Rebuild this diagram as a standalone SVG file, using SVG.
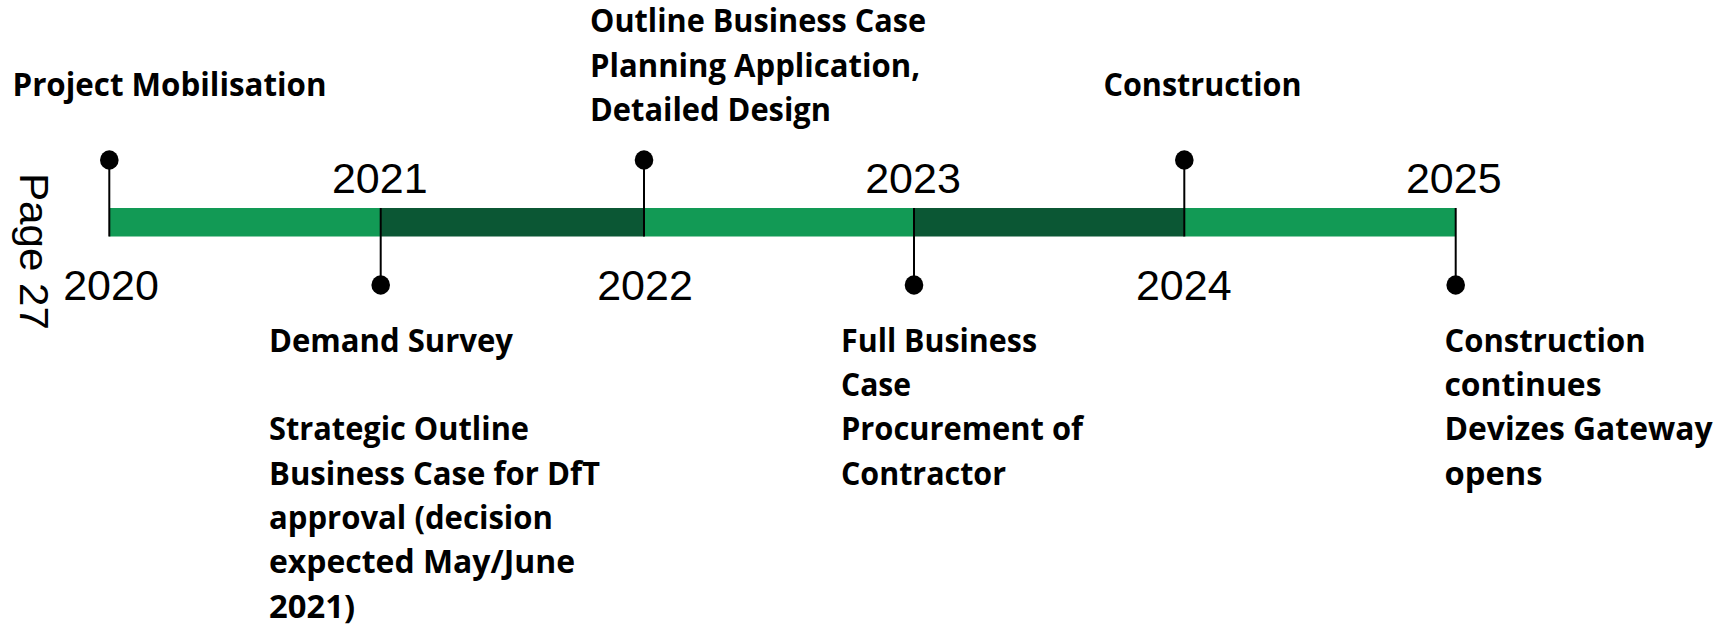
<svg xmlns="http://www.w3.org/2000/svg" width="1733" height="626" viewBox="0 0 1733 626">
<style>
.lbl{font-family:"Open Sans","Noto Sans","Liberation Sans",sans-serif;font-weight:700;font-size:32px;fill:#000}
.yr{font-family:"Liberation Sans",Arial,sans-serif;font-size:43px;fill:#000;text-anchor:middle}
.pg{font-family:"Liberation Sans",Arial,sans-serif;font-size:40px;fill:#000}
.stem{stroke:#000;stroke-width:2;fill:none}
.pin{fill:#000}
.lt{fill:#129A55}
.dk{fill:#0B5734}
</style>
<rect width="1733" height="626" fill="#fff"/>
<text class="pg" transform="translate(20,173) rotate(90)" textLength="157" lengthAdjust="spacingAndGlyphs">Page 27</text>
<g id="bar">
<rect class="lt" x="109.3" y="208" width="271.4" height="28.5"/>
<rect class="dk" x="380.7" y="208" width="263.3" height="28.5"/>
<rect class="lt" x="644" y="208" width="270" height="28.5"/>
<rect class="dk" x="914" y="208" width="270.3" height="28.5"/>
<rect class="lt" x="1184.3" y="208" width="271.4" height="28.5"/>
</g>
<g id="connectors">
<line class="stem" x1="109.3" y1="160" x2="109.3" y2="236.5"/>
<line class="stem" x1="380.7" y1="208" x2="380.7" y2="285"/>
<line class="stem" x1="644" y1="160" x2="644" y2="236.5"/>
<line class="stem" x1="914" y1="208" x2="914" y2="285"/>
<line class="stem" x1="1184.3" y1="160" x2="1184.3" y2="236.5"/>
<line class="stem" x1="1455.7" y1="208" x2="1455.7" y2="285"/>
</g>
<g id="years">
<text class="yr" x="111" y="299.5">2020</text>
<text class="yr" x="379.8" y="193.3">2021</text>
<text class="yr" x="645" y="299.5">2022</text>
<text class="yr" x="913" y="193.3">2023</text>
<text class="yr" x="1183.8" y="299.5">2024</text>
<text class="yr" x="1453.8" y="193.3">2025</text>
</g>
<g id="m2020">
<ellipse class="pin" cx="109.3" cy="160" rx="9.3" ry="9.7"/>
<text class="lbl" x="12.5" y="96" textLength="314" lengthAdjust="spacingAndGlyphs">Project Mobilisation</text>
</g>
<g id="m2021">
<ellipse class="pin" cx="380.7" cy="285" rx="9.3" ry="9.7"/>
<text class="lbl" x="269" y="351.7" textLength="244" lengthAdjust="spacingAndGlyphs">Demand Survey</text>
<text class="lbl" x="269" y="440.3" textLength="260" lengthAdjust="spacingAndGlyphs">Strategic Outline</text>
<text class="lbl" x="269" y="484.6" textLength="331" lengthAdjust="spacingAndGlyphs">Business Case for DfT</text>
<text class="lbl" x="269" y="528.9" textLength="284" lengthAdjust="spacingAndGlyphs">approval (decision</text>
<text class="lbl" x="269" y="573.2" textLength="306" lengthAdjust="spacingAndGlyphs">expected May/June</text>
<text class="lbl" x="269" y="617.5" textLength="86" lengthAdjust="spacingAndGlyphs">2021)</text>
</g>
<g id="m2022">
<ellipse class="pin" cx="644" cy="160" rx="9.3" ry="9.7"/>
<text class="lbl" x="590" y="32.3" textLength="336" lengthAdjust="spacingAndGlyphs">Outline Business Case</text>
<text class="lbl" x="590" y="76.5" textLength="330" lengthAdjust="spacingAndGlyphs">Planning Application,</text>
<text class="lbl" x="590" y="120.5" textLength="241" lengthAdjust="spacingAndGlyphs">Detailed Design</text>
</g>
<g id="m2023">
<ellipse class="pin" cx="914" cy="285" rx="9.3" ry="9.7"/>
<text class="lbl" x="841" y="351.7" textLength="196" lengthAdjust="spacingAndGlyphs">Full Business</text>
<text class="lbl" x="841" y="396" textLength="70" lengthAdjust="spacingAndGlyphs">Case</text>
<text class="lbl" x="841" y="440.3" textLength="242" lengthAdjust="spacingAndGlyphs">Procurement of</text>
<text class="lbl" x="841" y="484.6" textLength="165" lengthAdjust="spacingAndGlyphs">Contractor</text>
</g>
<g id="m2024">
<ellipse class="pin" cx="1184.3" cy="160" rx="9.3" ry="9.7"/>
<text class="lbl" x="1103.5" y="96" textLength="198" lengthAdjust="spacingAndGlyphs">Construction</text>
</g>
<g id="m2025">
<ellipse class="pin" cx="1455.7" cy="285" rx="9.3" ry="9.7"/>
<text class="lbl" x="1444.5" y="351.7" textLength="201" lengthAdjust="spacingAndGlyphs">Construction</text>
<text class="lbl" x="1444.5" y="396" textLength="157" lengthAdjust="spacingAndGlyphs">continues</text>
<text class="lbl" x="1444.5" y="440.3" textLength="268" lengthAdjust="spacingAndGlyphs">Devizes Gateway</text>
<text class="lbl" x="1444.5" y="484.6" textLength="98" lengthAdjust="spacingAndGlyphs">opens</text>
</g>
</svg>
